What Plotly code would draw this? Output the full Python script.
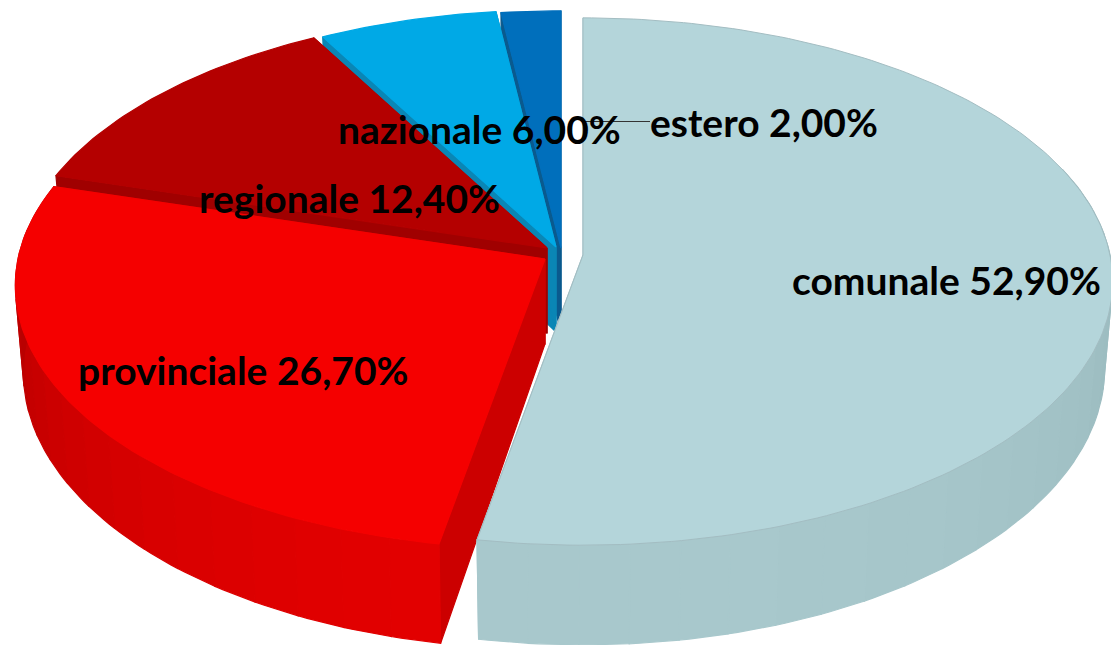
import numpy as np
import plotly.graph_objects as go

# ---- data ----
categories = ["comunale", "provinciale", "regionale", "nazionale", "estero"]
values = [52.9, 26.7, 12.4, 6.0, 2.0]
labels = ["comunale 52,90%", "provinciale 26,70%", "regionale 12,40%", "nazionale 6,00%", "estero 2,00%"]

# ---- style: explosion anchor of each slice, colours, label anchors ----
anchor_x = [583, 545, 547, 556, 561]
anchor_y = [255, 259, 248, 247, 248]
top_colors = ["#B4D5DA", "#F50000", "#B40000", "#00A9E6", "#006FBC"]
radial_colors = ["#A5C5CA", "#CC0000", "#A00000", "#0A86B5", "#0A5A8E"]
wall_near = [(169, 201, 205), (228, 0, 0), (160, 0, 0), (10, 134, 181), (10, 90, 142)]
wall_far = [(150, 182, 186), (172, 0, 0), (160, 0, 0), (10, 134, 181), (10, 90, 142)]
label_x = [946, 243, 349, 479, 764]
label_y = [279.5, 369.5, 197.5, 128.5, 121.5]

RX, RY, K, DEPTH, SHRINK = 527.0, 261.0, 0.1006, 85.0, 0.985


def top(theta, ax, ay):
    u, v = np.sin(theta), np.cos(theta)
    w = 1 + K * v
    return ax + RX * u / w, ay - RY * v / w, w


def bottom(theta, ax, ay):
    x, y, w = top(theta, ax, ay)
    return ax + (x - ax) * SHRINK, y + DEPTH / w ** 1.5


def poly(fig, xs, ys, color, line=None):
    fig.add_trace(go.Scatter(
        x=list(xs), y=list(ys), mode="lines", fill="toself", fillcolor=color,
        line=dict(color=line or color, width=1 if line else 1.2),
        hoverinfo="skip", showlegend=False))


fig = go.Figure()
edges = np.cumsum([0] + values) / sum(values) * 2 * np.pi
order = [4, 3, 2, 1, 0]

for i in order:
    a0, a1 = edges[i], edges[i + 1]
    ax, ay = anchor_x[i], anchor_y[i]
    # radial walls
    for a in (a0, a1):
        xt, yt, _ = top(a, ax, ay)
        xb, yb = bottom(a, ax, ay)
        poly(fig, [ax, xt, xb, ax, ax], [ay, yt, yb, ay + DEPTH, ay], radial_colors[i])
    # outer wall, drawn in shaded bands
    nseg = max(2, int((a1 - a0) / np.radians(5)))
    bands = np.linspace(a0, a1, nseg + 1)
    for b0, b1 in zip(bands[:-1], bands[1:]):
        mid = (b0 + b1) / 2
        if np.cos(mid) > 0.3:
            continue
        th = np.linspace(b0, b1, 6)
        xt, yt, _ = top(th, ax, ay)
        xb, yb = bottom(th, ax, ay)
        t = abs(-np.cos(mid) + 0.3) / 1.3
        c = tuple(int(f + (n - f) * t) for n, f in zip(wall_near[i], wall_far[i]))
        poly(fig, np.r_[xt, xb[::-1], xt[0]], np.r_[yt, yb[::-1], yt[0]], "rgb(%d,%d,%d)" % c)
    # top face
    th = np.linspace(a0, a1, max(8, int(np.degrees(a1 - a0))))
    xt, yt, _ = top(th, ax, ay)
    outline = "#A3BDC2" if i == 0 else None
    poly(fig, np.r_[ax, xt, ax], np.r_[ay, yt, ay], top_colors[i], outline)

# leader line of the estero label
fig.add_trace(go.Scatter(x=[585, 650], y=[121.5, 121.5], mode="lines",
                         line=dict(color="#333333", width=1), hoverinfo="skip", showlegend=False))

for text, x, y in zip(labels, label_x, label_y):
    fig.add_annotation(x=x, y=y, xref="x", yref="y", text=text, showarrow=False,
                       xanchor="center", yanchor="middle",
                       font=dict(family="Lato", size=39, color="#000000", weight=700))

fig.update_layout(
    width=1111, height=645, margin=dict(l=0, r=0, t=0, b=0),
    paper_bgcolor="#FFFFFF", plot_bgcolor="#FFFFFF", showlegend=False,
    xaxis=dict(range=[0, 1111], visible=False, fixedrange=True),
    yaxis=dict(range=[645, 0], visible=False, fixedrange=True),
)
fig.write_html("out.html", config=dict(displayModeBar=False),
               post_script="document.body.style.margin='0';document.documentElement.style.overflow='hidden';")
